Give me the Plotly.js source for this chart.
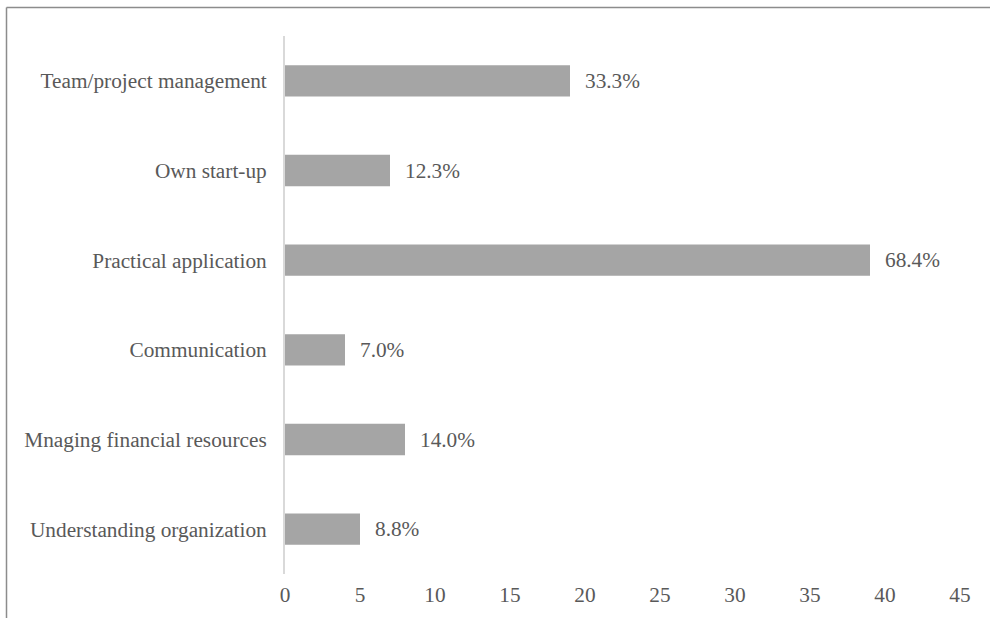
<!DOCTYPE html>
<html>
<head>
<meta charset="utf-8">
<script src="https://cdn.plot.ly/plotly-3.0.1.min.js"></script>
<style>
  html, body { margin: 0; padding: 0; background: #fff; }
  #chart { width: 990px; height: 618px; }
</style>
</head>
<body>
<div id="chart"></div>
<script>
// Categories, top to bottom as displayed
const categories = [
  "Team/project management",
  "Own start-up",
  "Practical application",
  "Communication",
  "Mnaging financial resources",
  "Understanding organization"
];
const counts = [19, 7, 39, 4, 8, 5];
// Data labels shown at bar ends
const pctLabels = ["33.3%", "12.3%", "68.4%", "7.0%", "14.0%", "8.8%"];
// X axis ticks
const xTicks = [0, 5, 10, 15, 20, 25, 30, 35, 40, 45];

const FONT = "Liberation Serif";
const TXT = "#595959";
const FS = 21.3;

const trace = {
  type: "bar",
  orientation: "h",
  x: counts,
  y: categories,
  marker: { color: "#a5a5a5" },
  hoverinfo: "skip"
};

const annotations = categories.map((c, i) => ({
  x: counts[i],
  y: c,
  xref: "x",
  yref: "y",
  text: pctLabels[i],
  showarrow: false,
  xanchor: "left",
  yanchor: "middle",
  xshift: 13,
  font: { family: FONT, size: FS, color: TXT }
}));

const layout = {
  width: 990,
  height: 618,
  margin: { l: 285, r: 30, t: 36, b: 44 },
  paper_bgcolor: "#ffffff",
  plot_bgcolor: "#ffffff",
  bargap: 0.65,
  showlegend: false,
  font: { family: FONT, size: FS, color: TXT },
  xaxis: {
    range: [0, 45],
    tickvals: xTicks,
    ticktext: xTicks.map(String),
    showgrid: false,
    zeroline: false,
    showline: false,
    ticks: "",
    ticklabelstandoff: 6,
    tickfont: { family: FONT, size: FS, color: TXT },
    fixedrange: true
  },
  yaxis: {
    type: "category",
    autorange: "reversed",
    showgrid: false,
    zeroline: false,
    showline: true,
    linecolor: "#d9d9d9",
    linewidth: 2,
    ticks: "",
    ticklabelstandoff: 12,
    tickfont: { family: FONT, size: FS, color: TXT },
    fixedrange: true
  },
  annotations: annotations,
  shapes: [
    { type: "line", xref: "paper", yref: "paper",
      x0: (6.5 - 285) / 675, x1: (995 - 285) / 675,
      y0: (574 - 7.5) / 538, y1: (574 - 7.5) / 538,
      line: { color: "#8c8c8c", width: 1.5 } },
    { type: "line", xref: "paper", yref: "paper",
      x0: (6.5 - 285) / 675, x1: (6.5 - 285) / 675,
      y0: (574 - 7.5) / 538, y1: (574 - 625) / 538,
      line: { color: "#8c8c8c", width: 1.5 } }
  ]
};

Plotly.newPlot("chart", [trace], layout, { displayModeBar: false, staticPlot: true });
</script>
</body>
</html>
